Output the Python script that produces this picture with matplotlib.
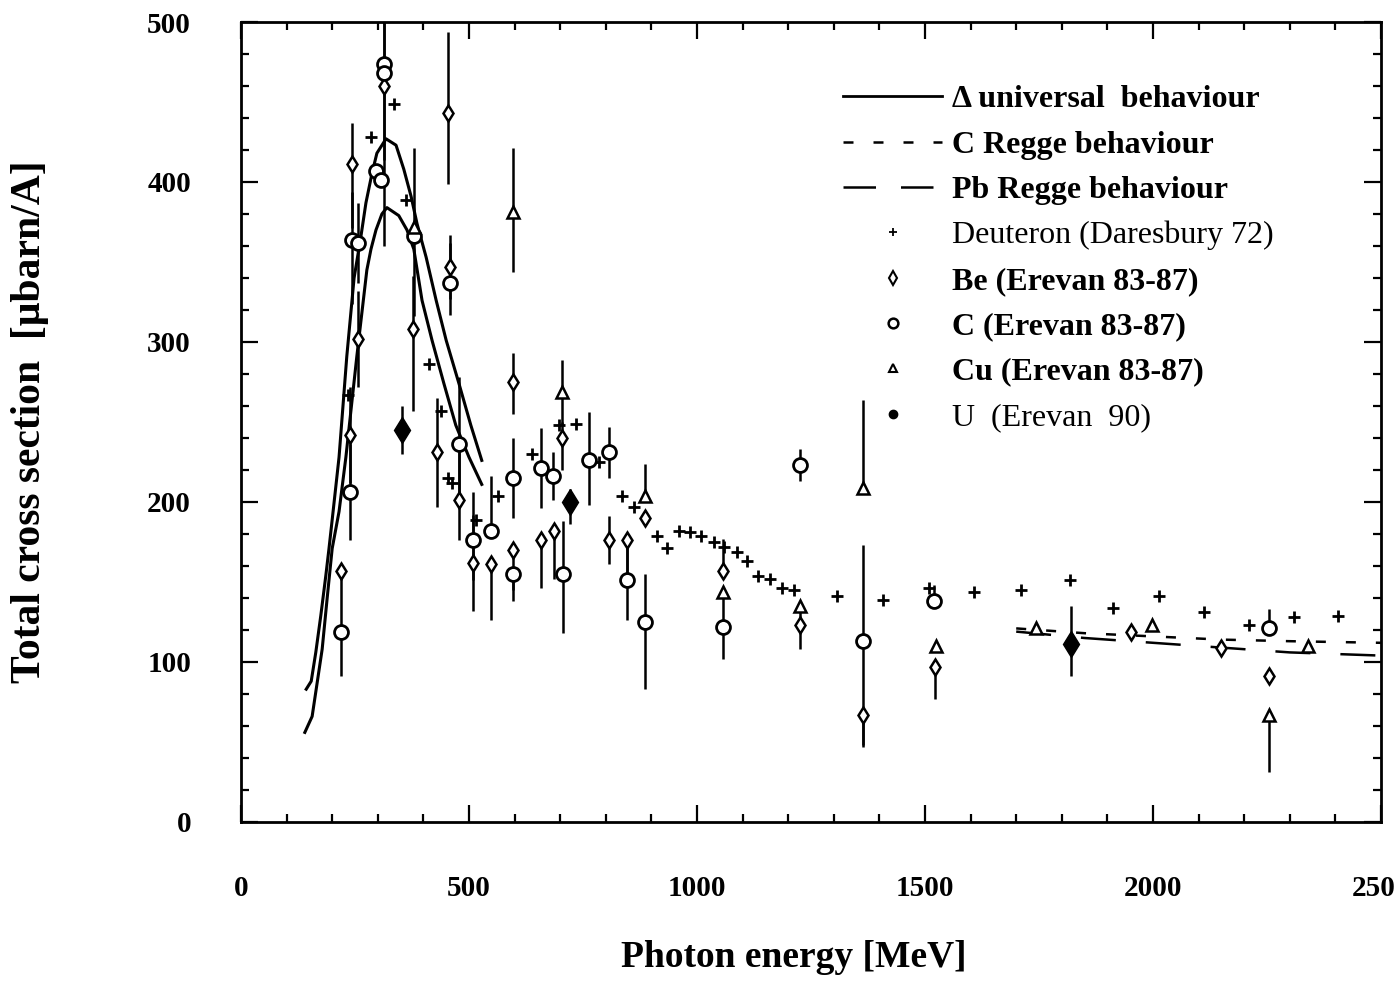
import matplotlib
matplotlib.use("Agg")
import matplotlib.pyplot as plt
from matplotlib.lines import Line2D
from matplotlib.ticker import MultipleLocator

plt.rcParams["font.family"] = ["Liberation Serif", "DejaVu Serif"]

# ---- theory curves (universal behaviour, C and Pb) ----
univ_c_e = [143, 154, 164, 175, 186, 193, 200, 215, 232, 248, 263, 274, 287, 298, 318,
            340, 357, 373, 386, 406, 428, 450, 478, 504, 528]
univ_c_s = [83, 88, 106, 129, 154, 171, 189, 228, 291, 340, 366, 387, 405, 418, 427,
            423, 408, 391, 374, 353, 326, 301, 274, 248, 226]
univ_pb_e = [140, 156, 167, 178, 189, 200, 215, 230, 254, 276, 285, 296, 309, 320, 346,
             364, 379, 397, 419, 445, 471, 500, 528]
univ_pb_s = [56, 66, 87, 108, 140, 171, 194, 228, 291, 345, 358, 370, 380, 384, 379,
             370, 358, 326, 301, 274, 248, 228, 211]

regge_e = [1700, 1850, 2000, 2150, 2300, 2500]
regge_c_s = [121, 118, 116, 114, 113, 112]
regge_pb_s = [119, 115, 112, 109, 106, 104]

# ---- Deuteron (Daresbury 72) ----
deut_e = [235, 285, 336, 362, 412, 439, 453, 463, 515, 564, 638, 697, 735, 785, 836,
          862, 912, 934, 961, 985, 1009, 1037, 1059, 1088, 1110, 1134, 1160, 1186, 1213,
          1307, 1408, 1509, 1607, 1711, 1818, 1912, 2013, 2112, 2211, 2309, 2406]
deut_s = [267, 428, 449, 389, 286, 257, 215, 212, 189, 204, 230, 248, 249, 225, 204,
          197, 179, 171, 182, 181, 179, 175, 172, 169, 163, 154, 152, 146, 145,
          141, 139, 146, 144, 145, 151, 134, 141, 131, 123, 128, 129]

# ---- Be (Erevan 83-87) ----
be_e = [219, 239, 243, 257, 314, 377, 430, 454, 458, 478, 509, 548, 597, 597, 658,
        686, 704, 807, 847, 886, 1057, 1226, 1364, 1523, 1952, 2149, 2254]
be_s = [157, 242, 411, 302, 460, 308, 231, 443, 347, 201, 162, 161, 275, 170, 176,
        182, 240, 176, 176, 190, 157, 123, 67, 97, 119, 109, 91]
be_lo = [0, 30, 40, 30, 100, 51, 34, 44, 20, 25, 30, 35, 20, 25, 30,
         30, 20, 15, 25, 0, 0, 15, 20, 20, 0, 0, 0]
be_hi = [0, 30, 26, 30, 50, 33, 34, 51, 20, 30, 30, 0, 18, 0, 0,
         0, 10, 15, 0, 0, 20, 15, 0, 0, 0, 0, 0]

# ---- C (Erevan 83-87) ----
c_e = [219, 239, 243, 257, 296, 307, 314, 314, 379, 458, 478, 509, 548, 597, 597,
       658, 685, 706, 763, 807, 847, 886, 1057, 1226, 1364, 1520, 2254]
c_s = [119, 206, 364, 362, 407, 401, 474, 468, 366, 337, 236, 176, 182, 215, 155,
       221, 216, 155, 226, 231, 151, 125, 122, 223, 113, 138, 121]
c_lo = [28, 30, 40, 25, 0, 0, 60, 0, 50, 20, 40, 25, 0, 25, 17,
        25, 15, 37, 28, 16, 25, 42, 20, 10, 65, 0, 0]
c_hi = [38, 30, 30, 25, 0, 0, 40, 0, 55, 25, 42, 30, 34, 25, 0,
        25, 15, 33, 30, 16, 25, 30, 20, 10, 60, 10, 12]

# ---- Cu (Erevan 83-87) ----
cu_e = [379, 597, 703, 886, 1057, 1226, 1364, 1525, 1743, 1998, 2254, 2340]
cu_s = [372, 381, 269, 204, 144, 135, 209, 110, 121, 123, 67, 110]
cu_lo = [0, 37, 20, 0, 0, 0, 0, 0, 0, 0, 36, 0]
cu_hi = [0, 40, 20, 20, 0, 0, 55, 0, 0, 0, 0, 0]

# ---- U (Erevan 90) ----
u_e = [353, 721, 1820]
u_s = [245, 200, 111]
u_lo = [15, 14, 20]
u_hi = [15, 8, 24]

fig = plt.figure(figsize=(13.95, 9.81), dpi=100)
ax = fig.add_axes([241 / 1395, 1 - 822 / 981, 1140 / 1395, 800 / 981])

# theory lines
ax.plot(univ_c_e, univ_c_s, color="black", lw=2.2)
ax.plot(univ_pb_e, univ_pb_s, color="black", lw=2.2)
ax.plot(regge_e, regge_c_s, color="black", lw=1.8, dashes=(4, 8))
ax.plot(regge_e, regge_pb_s, color="black", lw=1.8, dashes=(14, 12))

# data
eb = dict(ecolor="black", elinewidth=1.8, capsize=0, linestyle="none")
ax.plot(deut_e, deut_s, "+", color="black", ms=8, mew=2)
ax.errorbar(be_e, be_s, yerr=[be_lo, be_hi], fmt="d", ms=8, mfc="white",
            mec="black", mew=1.8, **eb)
ax.errorbar(c_e, c_s, yerr=[c_lo, c_hi], fmt="o", ms=10, mfc="white",
            mec="black", mew=2, **eb)
ax.errorbar(cu_e, cu_s, yerr=[cu_lo, cu_hi], fmt="^", ms=8, mfc="white",
            mec="black", mew=1.8, **eb)
ax.errorbar(u_e, u_s, yerr=[u_lo, u_hi], fmt="d", ms=13, mfc="black",
            mec="black", mew=1, **eb)

# axes
ax.set_xlim(0, 2500)
ax.set_ylim(0, 500)
ax.xaxis.set_major_locator(MultipleLocator(500))
ax.xaxis.set_minor_locator(MultipleLocator(100))
ax.yaxis.set_major_locator(MultipleLocator(100))
ax.yaxis.set_minor_locator(MultipleLocator(20))
ax.tick_params(which="both", direction="in", top=True, right=True, width=1.6)
ax.tick_params(which="major", length=12)
ax.tick_params(which="minor", length=5.5)
ax.tick_params(axis="x", which="major", pad=38, labelsize=21)
ax.tick_params(axis="y", which="major", pad=36, labelsize=21)
for lab in ax.get_xticklabels() + ax.get_yticklabels():
    lab.set_fontweight("bold")
for sp in ax.spines.values():
    sp.set_linewidth(2)

ax.set_xlabel("Photon energy [MeV]", fontsize=27, fontweight="bold")
ax.set_ylabel("Total cross section  [\u03bcbarn/A]", fontsize=30, fontweight="bold")
ax.xaxis.set_label_coords(0.485, -0.1475)
ax.yaxis.set_label_coords(-0.168, 0.5)

# legend
handles = [
    Line2D([], [], color="black", lw=2),
    Line2D([], [], color="black", lw=1.8, dashes=(4, 8)),
    Line2D([], [], color="black", lw=1.8, dashes=(13, 10)),
    Line2D([], [], color="black", marker="+", ls="none", ms=6, mew=1.3),
    Line2D([], [], color="black", marker="d", ls="none", ms=7, mfc="white", mew=1.5),
    Line2D([], [], color="black", marker="o", ls="none", ms=7, mfc="white", mew=1.8),
    Line2D([], [], color="black", marker="^", ls="none", ms=6, mfc="white", mew=1.5),
    Line2D([], [], color="black", marker="o", ls="none", ms=6, mfc="black"),
]
labels = [
    "\u0394 universal  behaviour",
    "C Regge behaviour",
    "Pb Regge behaviour",
    "Deuteron (Daresbury 72)",
    "Be (Erevan 83-87)",
    "C (Erevan 83-87)",
    "Cu (Erevan 83-87)",
    "U  (Erevan  90)",
]
leg = fig.legend(handles, labels, loc="upper left",
                 bbox_to_anchor=(843 / 1395, 1 - 85 / 981),
                 frameon=False, fontsize=23, handlelength=3.1,
                 handletextpad=0.3, labelspacing=0.5, borderpad=0,
                 borderaxespad=0)
for i, t in enumerate(leg.get_texts()):
    if i in (3, 7):
        t.set_fontweight("normal")
    else:
        t.set_fontweight("bold")

fig.savefig("out.png", dpi=100)
